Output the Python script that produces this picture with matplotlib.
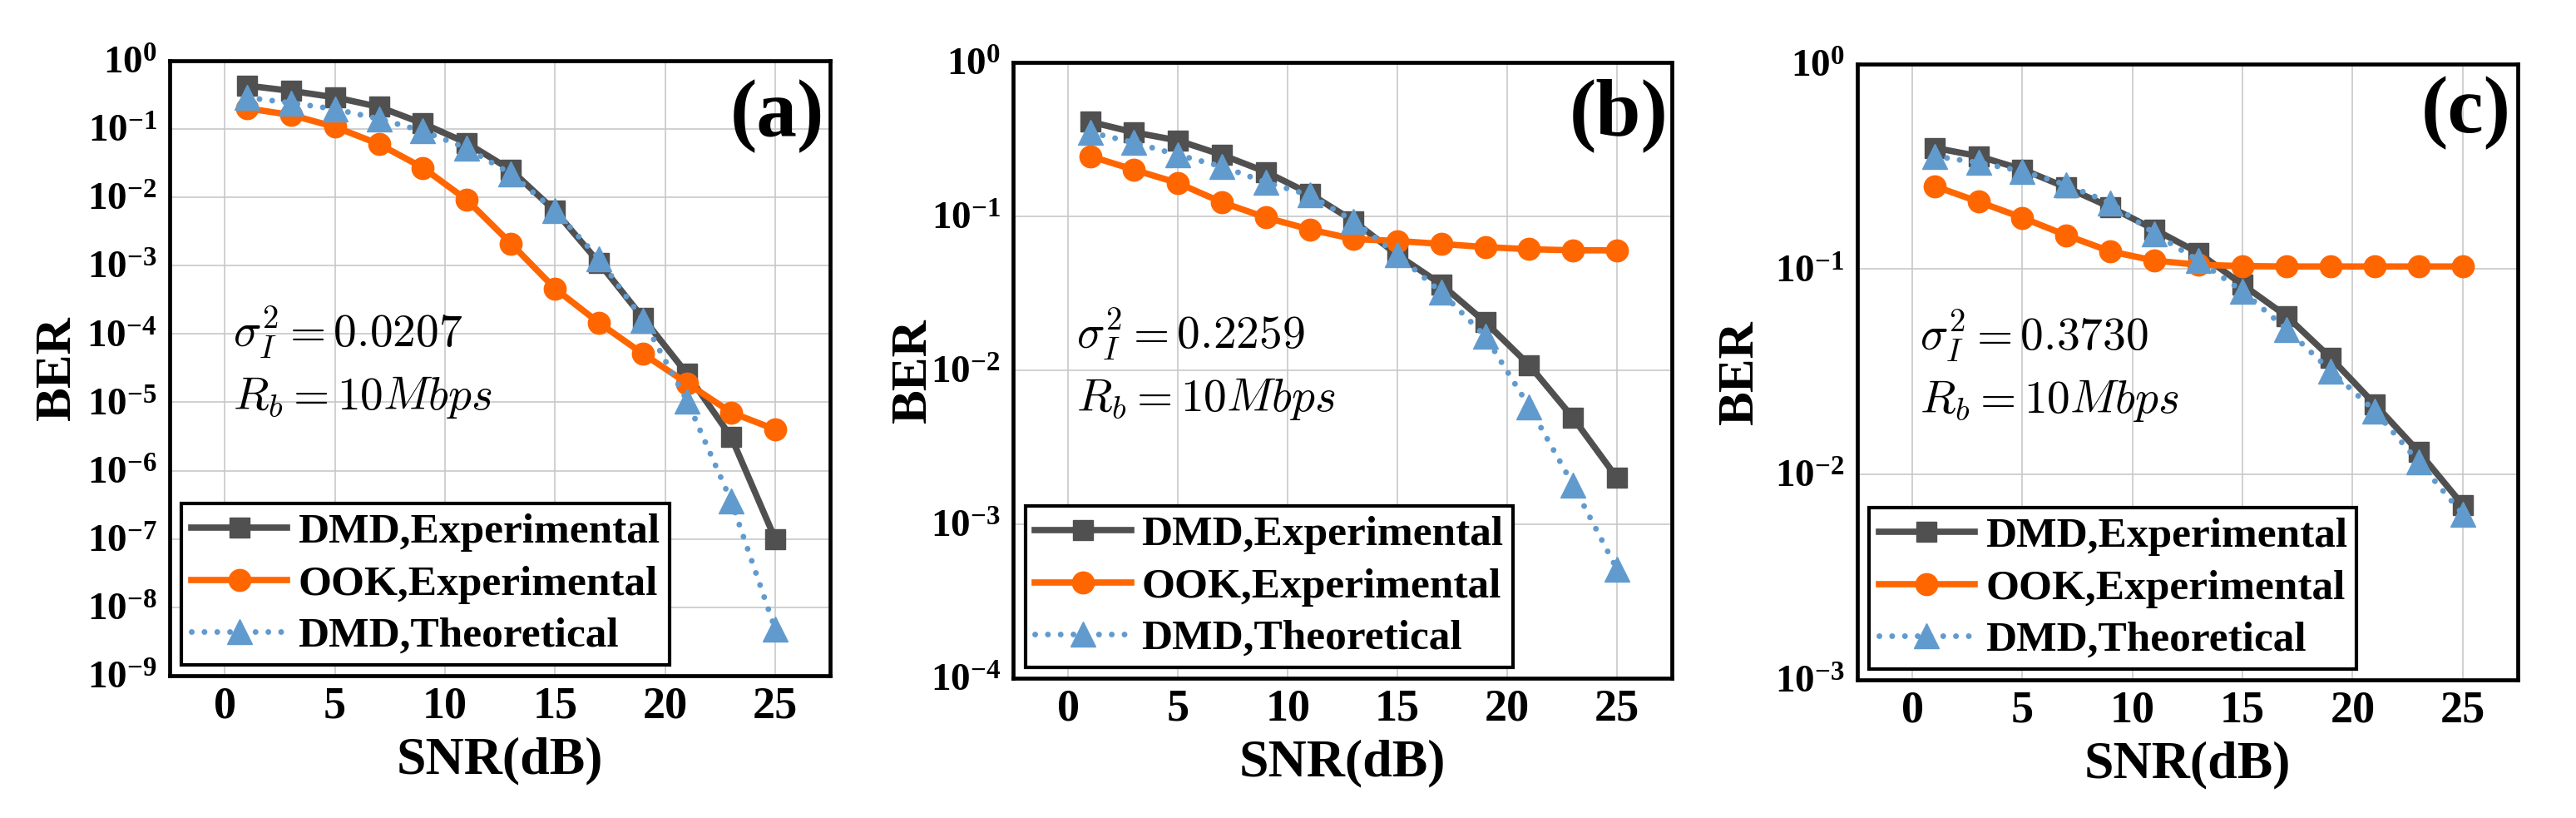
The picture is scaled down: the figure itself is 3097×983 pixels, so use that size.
import math
import matplotlib
matplotlib.use("Agg")
import matplotlib.pyplot as plt
from matplotlib.ticker import FixedLocator, NullLocator, FuncFormatter

plt.rcParams['font.family'] = ['Liberation Serif', 'DejaVu Serif']
plt.rcParams['font.weight'] = 'bold'
plt.rcParams['mathtext.fontset'] = 'custom'
plt.rcParams['mathtext.rm'] = 'Liberation Serif:bold'
plt.rcParams['mathtext.bf'] = 'Liberation Serif:bold'
plt.rcParams['mathtext.it'] = 'Liberation Serif:bold:italic'

# SNR points (dB)
snr = [1, 3, 5, 7, 9, 11, 13, 15, 17, 19, 21, 23, 25]

# panel (a)
a_dmd_exp = [0.43, 0.36, 0.29, 0.21, 0.12, 0.062, 0.025, 6.3e-3, 1.1e-3, 1.7e-4, 2.6e-5, 3.1e-6, 1.0e-7]
a_ook_exp = [0.20, 0.16, 0.107, 0.060, 0.027, 9.1e-3, 2.1e-3, 4.6e-4, 1.45e-4, 5.1e-5, 1.9e-5, 7.1e-6, 4.0e-6]
a_dmd_th = [0.287, 0.24, 0.195, 0.14, 0.093, 0.052, 0.022, 6.3e-3, 1.26e-3, 1.6e-4, 1.05e-5, 3.6e-7, 4.8e-9]

# panel (b)
b_dmd_exp = [0.41, 0.35, 0.31, 0.25, 0.194, 0.14, 0.093, 0.056, 0.036, 0.0205, 0.0108, 0.0049, 0.0020]
b_ook_exp = [0.245, 0.20, 0.164, 0.123, 0.098, 0.082, 0.071, 0.069, 0.066, 0.063, 0.061, 0.060, 0.060]
b_dmd_th = [0.35, 0.30, 0.25, 0.21, 0.166, 0.137, 0.093, 0.056, 0.032, 0.0166, 0.0058, 0.0018, 5.1e-4]

# panel (c)
c_dmd_exp = [0.39, 0.355, 0.306, 0.25, 0.20, 0.156, 0.12, 0.084, 0.059, 0.037, 0.022, 0.0129, 0.0071]
c_ook_exp = [0.254, 0.213, 0.178, 0.146, 0.122, 0.11, 0.105, 0.1035, 0.103, 0.103, 0.103, 0.103, 0.103]
c_dmd_th = [0.355, 0.33, 0.30, 0.257, 0.21, 0.149, 0.11, 0.078, 0.051, 0.032, 0.0204, 0.0115, 0.0064]

panel_tags = ['(a)', '(b)', '(c)']
sigma_vals = ['0.0207', '0.2259', '0.3730']
ymin_exp = [-9, -4, -3]
series_names = ['DMD,Experimental', 'OOK,Experimental', 'DMD,Theoretical']
xticks = [0, 5, 10, 15, 20, 25]

GRAY = '#505050'
ORANGE = '#ff6600'
BLUE = '#619bce'

fig = plt.figure(figsize=(30.97, 9.83), dpi=100)

rects = [
    [0.0659, 0.174, 0.2564, 0.752],
    [0.3934, 0.171, 0.2556, 0.753],
    [0.7210, 0.169, 0.2564, 0.753],
]
ylab_x = [-0.170, -0.152, -0.177]
tag_pos = [(0.991, 0.910), (0.994, 0.913), (0.990, 0.920)]

data = [
    (a_dmd_exp, a_ook_exp, a_dmd_th),
    (b_dmd_exp, b_ook_exp, b_dmd_th),
    (c_dmd_exp, c_ook_exp, c_dmd_th),
]


def tick_fmt(v, pos):
    e = int(round(math.log10(v)))
    return r'$\mathbf{10^{%d}}$' % e


for i in range(3):
    ax = fig.add_axes(rects[i])
    dmd_exp, ook_exp, dmd_th = data[i]

    ax.plot(snr, dmd_exp, color=GRAY, lw=5.5, marker='s', ms=17,
            label=series_names[0], zorder=3)
    ax.plot(snr, ook_exp, color=ORANGE, lw=5.5, marker='o', ms=19,
            label=series_names[1], zorder=4)
    ax.plot(snr, dmd_th, color=BLUE, lw=5, linestyle=(0, (0.01, 2.2)),
            dash_capstyle='round', marker='^', ms=21, label=series_names[2],
            zorder=5)

    ax.set_yscale('log')
    ax.set_ylim(10.0 ** ymin_exp[i], 1.0)
    ax.set_xlim(-2.5, 27.5)
    ax.xaxis.set_major_locator(FixedLocator(xticks))
    ax.yaxis.set_major_locator(FixedLocator([10.0 ** k for k in range(ymin_exp[i], 1)]))
    ax.yaxis.set_minor_locator(NullLocator())
    ax.yaxis.set_major_formatter(FuncFormatter(tick_fmt))
    ax.tick_params(axis='x', length=0, pad=9, labelsize=39)
    ax.tick_params(axis='y', length=0, pad=11, labelsize=34)
    for lab in ax.get_xticklabels():
        lab.set_fontweight('bold')

    ax.grid(True, color='#c8c8c8', lw=1.2)
    ax.set_axisbelow(True)
    for sp in ax.spines.values():
        sp.set_linewidth(3.4)
        sp.set_color('black')

    ax.set_xlabel('SNR(dB)', fontsize=46, fontweight='bold')
    ax.xaxis.set_label_coords(0.5, -0.139)
    ax.xaxis.label.set_va('center')
    ax.set_ylabel('BER', fontsize=44, fontweight='bold')
    ax.yaxis.set_label_coords(ylab_x[i], 0.5)
    ax.yaxis.label.set_va('center')

    ax.text(0.095, 0.535, r'$\sigma_I^2 = %s$' % sigma_vals[i], transform=ax.transAxes,
            fontsize=40, ha='left', va='baseline', math_fontfamily='cm', zorder=6)
    ax.text(0.095, 0.433, r'$R_b = 10Mbps$', transform=ax.transAxes,
            fontsize=40, ha='left', va='baseline', math_fontfamily='cm', zorder=6)

    ax.text(tag_pos[i][0], tag_pos[i][1], panel_tags[i], transform=ax.transAxes,
            fontsize=70, fontweight='bold', ha='right', va='center', zorder=6)

    leg = ax.legend(loc='lower left', bbox_to_anchor=(0.018, 0.017), numpoints=1,
                    prop={'family': 'Liberation Serif', 'weight': 'bold', 'size': 37},
                    fancybox=False, framealpha=1, edgecolor='black',
                    borderpad=0.22, labelspacing=0.3, handlelength=2.25,
                    handletextpad=0.25, borderaxespad=0.0)
    leg.get_frame().set_linewidth(3.0)
    leg.set_zorder(10)

fig.savefig('out.png', dpi=100)
